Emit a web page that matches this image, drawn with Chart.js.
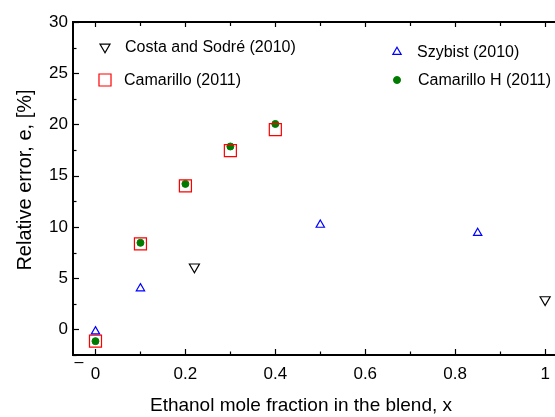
<!DOCTYPE html>
<html>
<head>
<meta charset="utf-8">
<script src="https://cdn.jsdelivr.net/npm/chart.js@4/dist/chart.umd.min.js"></script>
<style>
  html, body { margin: 0; padding: 0; background: #fff; }
  #chart { display: block; }
</style>
</head>
<body>
<canvas id="chart" width="555" height="417"></canvas>
<script>
// series
const costaX = [0.22, 1.0];
const costaY = [6.1, 2.9];
const szybistX = [0, 0.1, 0.5, 0.85];
const szybistY = [-0.2, 4.0, 10.2, 9.4];
const camX = [0, 0.1, 0.2, 0.3, 0.4];
const camY = [-1.15, 8.35, 14.0, 17.45, 19.5];
const camHX = [0, 0.1, 0.2, 0.3, 0.4];
const camHY = [-1.15, 8.45, 14.2, 17.85, 20.05];

const xTicks = [0, 0.2, 0.4, 0.6, 0.8, 1];
const xMinor = [0.1, 0.3, 0.5, 0.7, 0.9];
const yTicks = [0, 5, 10, 15, 20, 25, 30];
const yMinor = [-2.5, 2.5, 7.5, 12.5, 17.5, 22.5, 27.5];

const FONT = "Arial, 'Liberation Sans', sans-serif";

const pts = (xs, ys) => xs.map((x, i) => ({ x: x, y: ys[i] }));

const series = [
  { label: "Costa and Sodré (2010)", data: pts(costaX, costaY), pointStyle: "triangle", rotation: 180,
    pointRadius: 5.8, borderColor: "#000", backgroundColor: "rgba(0,0,0,0)", borderWidth: 1.2,
    legend: { x: 105, y: 47, tx: 125 } },
  { label: "Szybist (2010)", data: pts(szybistX, szybistY), pointStyle: "triangle", rotation: 0,
    pointRadius: 4.8, borderColor: "#0000ff", backgroundColor: "rgba(0,0,0,0)", borderWidth: 1.2,
    legend: { x: 397, y: 52, tx: 417 } },
  { label: "Camarillo (2011)", data: pts(camX, camY), pointStyle: "rect", rotation: 0,
    pointRadius: 8.5, borderColor: "#ff0000", backgroundColor: "rgba(0,0,0,0)", borderWidth: 1.2,
    legend: { x: 105, y: 80, tx: 124 } },
  { label: "Camarillo H (2011)", data: pts(camHX, camHY), pointStyle: "circle", rotation: 0,
    pointRadius: 3.5, borderColor: "#007a00", backgroundColor: "#007a00", borderWidth: 1,
    legend: { x: 397, y: 80, tx: 418 } }
];

// ticks inside the frame, top frame line, legend and axis titles
const decor = {
  id: "decor",
  afterDraw(chart) {
    const { ctx, chartArea: a, scales: { x, y } } = chart;
    ctx.save();
    ctx.strokeStyle = "#000";
    ctx.lineWidth = 1.2;
    const tick = (x1, y1, x2, y2) => { ctx.beginPath(); ctx.moveTo(x1, y1); ctx.lineTo(x2, y2); ctx.stroke(); };
    yTicks.forEach(v => { const p = Math.round(y.getPixelForValue(v)) + 0.5; tick(a.left, p, a.left + 6, p); });
    yMinor.forEach(v => { const p = Math.round(y.getPixelForValue(v)) + 0.5; tick(a.left, p, a.left + 3.5, p); });
    xTicks.forEach(v => {
      const p = Math.round(x.getPixelForValue(v)) + 0.5;
      tick(p, a.bottom, p, a.bottom - 6); tick(p, a.top, p, a.top + 5);
    });
    xMinor.forEach(v => {
      const p = Math.round(x.getPixelForValue(v)) + 0.5;
      tick(p, a.bottom, p, a.bottom - 3.5); tick(p, a.top, p, a.top + 4);
    });
    ctx.lineWidth = 2;
    tick(a.left - 1, a.top, chart.width, a.top);

    // legend
    ctx.font = "16px " + FONT;
    ctx.fillStyle = "#000";
    ctx.textBaseline = "middle";
    ctx.textAlign = "left";
    series.forEach(s => {
      ctx.strokeStyle = s.borderColor;
      ctx.fillStyle = s.backgroundColor;
      ctx.lineWidth = s.borderWidth;
      Chart.helpers.drawPoint(ctx, { pointStyle: s.pointStyle, rotation: s.rotation, radius: s.pointRadius, borderWidth: s.borderWidth }, s.legend.x, s.legend.y);
      ctx.fillStyle = "#000";
      ctx.fillText(s.label, s.legend.tx, s.legend.y + 1);
    });

    // axis titles
    ctx.font = "19px " + FONT;
    ctx.textAlign = "center";
    ctx.fillText("Ethanol mole fraction in the blend, x", 301, 406);
    ctx.font = "20px " + FONT;
    ctx.translate(25, 180);
    ctx.rotate(-Math.PI / 2);
    ctx.fillText("Relative error, e, [%]", 0, 0);
    ctx.restore();

    ctx.save();
    ctx.font = "16px " + FONT;
    ctx.fillStyle = "#000";
    ctx.textAlign = "center";
    ctx.textBaseline = "middle";
    ctx.fillText("–", 79, 363);
    ctx.restore();
  }
};

new Chart(document.getElementById("chart"), {
  type: "scatter",
  data: {
    datasets: series.map(s => ({
      label: s.label,
      data: s.data,
      pointStyle: s.pointStyle,
      rotation: s.rotation,
      pointRadius: s.pointRadius,
      pointHoverRadius: s.pointRadius,
      borderColor: s.borderColor,
      backgroundColor: s.backgroundColor,
      borderWidth: s.borderWidth,
      clip: false
    }))
  },
  options: {
    responsive: false,
    animation: false,
    events: [],
    layout: { autoPadding: false, padding: { top: 22, left: 0, right: 0, bottom: 0 } },
    plugins: { legend: { display: false }, tooltip: { enabled: false } },
    scales: {
      x: {
        type: "linear",
        min: -0.05,
        max: 1.022,
        afterBuildTicks: (scale) => { scale.ticks = xTicks.map(v => ({ value: v })); },
        afterFit: (scale) => { scale.height = 62; scale.paddingRight = 0; scale.paddingLeft = 0; },
        grid: { display: false, drawTicks: false },
        border: { display: true, color: "#000", width: 2 },
        ticks: {
          color: "#000",
          font: { family: FONT, size: 17 },
          padding: 9,
          maxRotation: 0,
          autoSkip: false,
          callback: (v) => String(v)
        }
      },
      y: {
        type: "linear",
        min: -2.5,
        max: 30,
        afterBuildTicks: (scale) => { scale.ticks = yTicks.map(v => ({ value: v })); },
        afterFit: (scale) => { scale.width = 73; },
        grid: { display: false, drawTicks: false },
        border: { display: true, color: "#000", width: 2 },
        ticks: {
          color: "#000",
          font: { family: FONT, size: 17 },
          padding: 5,
          autoSkip: false,
          callback: (v) => String(v)
        }
      }
    }
  },
  plugins: [decor]
});
</script>
</body>
</html>
